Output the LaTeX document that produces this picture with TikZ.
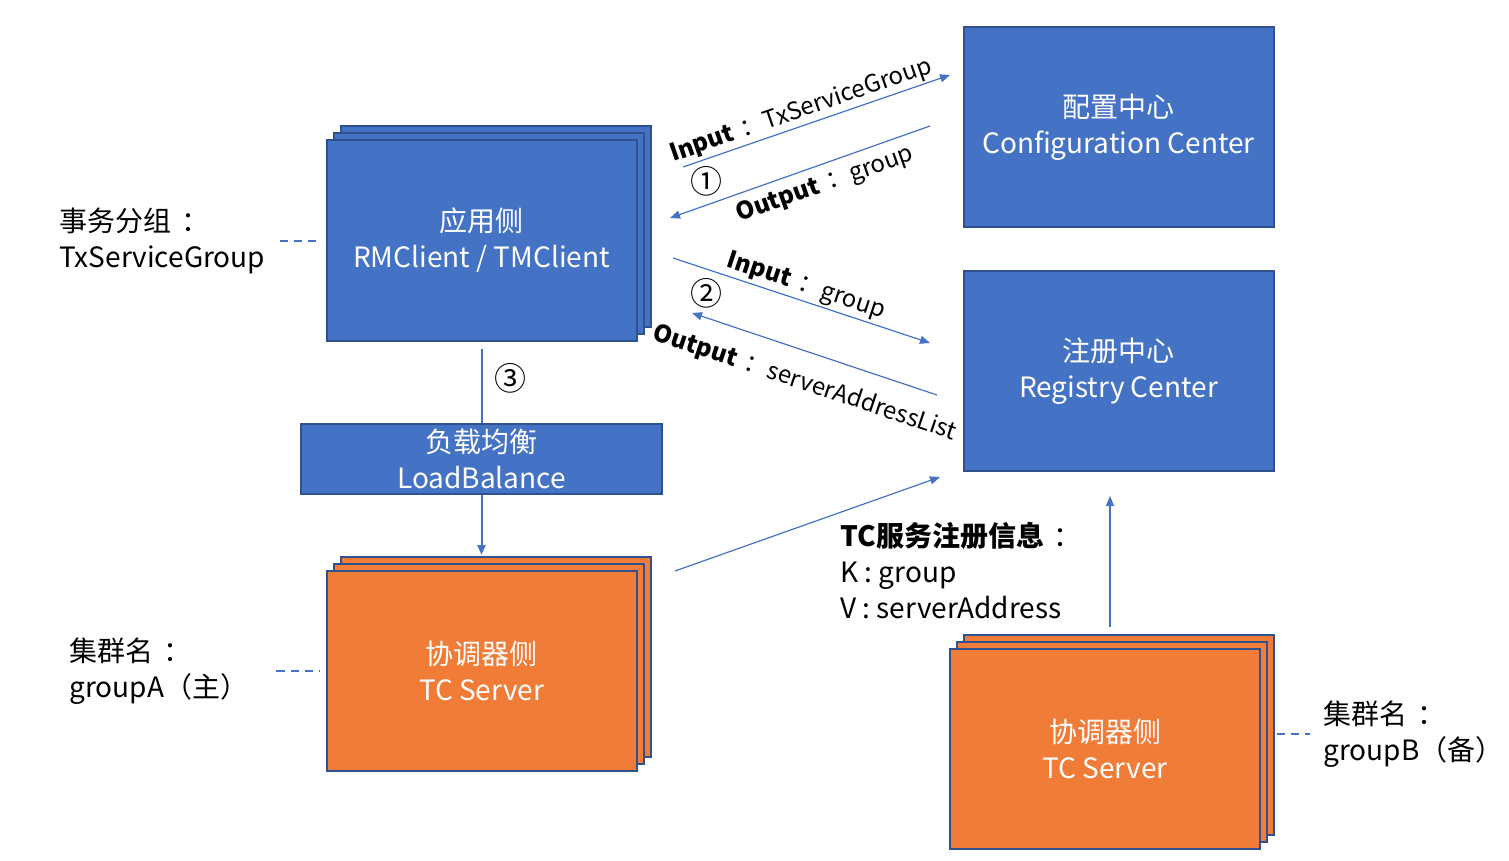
\documentclass[tikz,border=0pt]{standalone}
\usepackage{fontspec}
\setmainfont{Noto Sans CJK SC}
\usetikzlibrary{arrows.meta,shadows}
\definecolor{boxblue}{RGB}{68,114,196}
\definecolor{edgeblue}{RGB}{47,82,143}
\definecolor{boxorange}{RGB}{240,124,56}
\newcommand{\fcolon}{\kern0.35em：}
\begin{document}
\begin{tikzpicture}[x=0.5pt,y=-0.5pt]
\tikzstyle{box}=[draw=edgeblue, line width=1pt, fill=boxblue, text=white, minimum width=155pt, minimum height=100pt, inner sep=0pt, align=center, font=\fontsize{14}{18}\selectfont]
\tikzstyle{stack}=[double copy shadow={shadow xshift=3.5pt, shadow yshift=3.5pt}]
\tikzstyle{tcbox}=[box, stack, fill=boxorange]
\tikzstyle{sidetext}=[anchor=west, align=left, inner sep=0pt, font=\fontsize{14}{18}\selectfont]
\tikzstyle{flow}=[draw=boxblue, line width=0.6pt, -{Triangle[length=5pt,width=4pt]}]
\tikzstyle{tie}=[draw=boxblue, line width=0.9pt, dash pattern=on 4pt off 3pt]
\tikzstyle{note}=[font=\fontsize{12}{15}\selectfont, inner sep=1pt]
\tikzstyle{stepno}=[font=\fontsize{16}{18}\selectfont]

\useasboundingbox (0,0) rectangle (1509,861);

\node[box] (conf) at (1118.5,127) {配置中心\\Configuration Center};
\node[box] (reg) at (1118.5,371) {注册中心\\Registry Center};
\node[box, stack] (app) at (481.5,240.5) {应用侧\\RMClient / TMClient};
\node[box, minimum width=180.5pt, minimum height=35pt] (lb) at (481.5,459) {负载均衡\\LoadBalance};
\node[tcbox] (tcA) at (481.5,671) {协调器侧\\TC Server};
\node[tcbox] (tcB) at (1105,749) {协调器侧\\TC Server};

% side notes
\node[sidetext] (grp) at (59,241) {事务分组\fcolon\\TxServiceGroup};
\node[sidetext] (clA) at (69,671) {集群名\fcolon\\groupA（主）};
\node[sidetext] (clB) at (1323,734) {集群名\fcolon\\groupB（备）};
\node[sidetext] (info) at (840,571) {\textbf{TC服务注册信息}\fcolon\\K : group\\V : serverAddress};

\draw[tie, shorten <=7pt, shorten >=2.5pt] (grp.east) -- (grp.east -| app.west);
\draw[tie, shorten <=14pt, shorten >=3pt] (clA.east) -- (clA.east -| tcA.west);
\draw[tie, shorten <=8pt, shorten >=6.5pt] (tcB.east |- clB.west) -- (clB.west);

% step numbers
\node[stepno] (n1) at (706,181) {①};
\node[stepno] (n2) at (706,293) {②};
\node[stepno] (n3) at (510,378) {③};

% arrows
\coordinate (in1s) at (683,167);
\coordinate (in1e) at (950,75);
\coordinate (out1s) at (930,126);
\coordinate (out1e) at (670,218);
\coordinate (in2s) at (673,258);
\coordinate (in2e) at (930,343);
\coordinate (out2s) at (937,395);
\coordinate (out2e) at (692,313);
\coordinate (tcAout) at (675,571);
\coordinate (regin) at (940,477);
\coordinate (tcBout) at (1110,627);
\coordinate (regbot) at (1110,496);

\path
(in1s) edge[flow] node[note, sloped, above, pos=0.46] {\textbf{Input}\fcolon TxServiceGroup} (in1e)
(out1s) edge[flow] node[note, sloped, below=3pt, pos=0.43] {\textbf{Output}\fcolon group} (out1e)
(in2s) edge[flow] node[note, sloped, above, pos=0.5] {\textbf{Input}\fcolon group} (in2e)
(out2s) edge[flow] node[note, sloped, below=8pt, pos=0.5] {\textbf{Output}\fcolon serverAddressList} (out2e)
(tcAout) edge[flow] (regin)
(tcBout) edge[flow] (regbot);

\draw[draw=boxblue, line width=1pt, shorten <=3.5pt] (app) -- (lb);
\draw[flow, line width=1pt, shorten >=7.5pt] (lb) -- (tcA);

\end{tikzpicture}
\end{document}
